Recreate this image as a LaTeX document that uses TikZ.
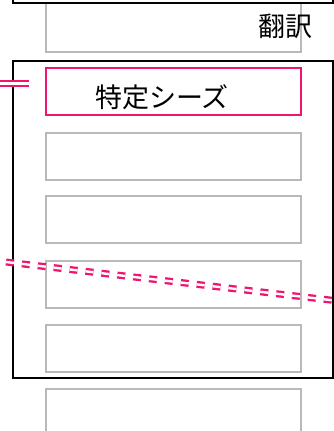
\documentclass[tikz,border=0pt]{standalone}
\usepackage{fontspec}
\newfontfamily\cjk{Noto Sans CJK JP}
\definecolor{hotpink}{RGB}{240,20,110}
\definecolor{boxgray}{RGB}{185,185,185}
\begin{document}
\begin{tikzpicture}[x=1pt,y=-1pt,
  graybox/.style={draw=boxgray,line width=2pt,minimum width=255pt,minimum height=47pt,inner sep=0pt,fill=white},
  pinkbox/.style={draw=hotpink,line width=2pt,minimum width=255pt,minimum height=47pt,inner sep=0pt},
  frame/.style={draw=black,line width=2pt,minimum width=320pt,inner sep=0pt},
  label/.style={font=\cjk\fontsize{27}{30}\selectfont,inner sep=0pt,text=black},
  pinkdouble/.style={draw=hotpink,line width=2.3pt,double=white,double distance=2.4pt}]
\useasboundingbox (0,0) rectangle (334,431);
% top gray box (partly hidden)
\node[graybox,minimum height=72pt] (b1) at (173,15.5) {};
% top frame
\node[frame,fill=white,minimum height=40pt] (f1) at (173,-17) {};
% second frame
\node[frame,minimum height=317pt] (f2) at (173,219.5) {};
% pink box
\node[pinkbox] (p) at (173,91.5) {};
% gray boxes
\node[graybox] (b2) at (173,156) {};
\node[graybox] (b3) at (173,219.5) {};
\node[graybox] (b4) at (173,284) {};
\node[graybox] (b5) at (173,348) {};
\node[graybox] (b6) at (173,412) {};
% labels
\node[label] (t1) at (285.5,26.5) {翻訳};
\node[label] (t2) at (162,97.5) {特定シーズ};
% pink connectors
\coordinate (l0) at (0,83.5);
\coordinate (l1) at (29,83.5);
\draw[pinkdouble] (l0) -- (l1);
\coordinate (d0) at (6,262);
\coordinate (d1) at (342,301.4);
\draw[pinkdouble,dash pattern=on 8pt off 8pt] (d0) -- (d1);
\end{tikzpicture}
\end{document}
